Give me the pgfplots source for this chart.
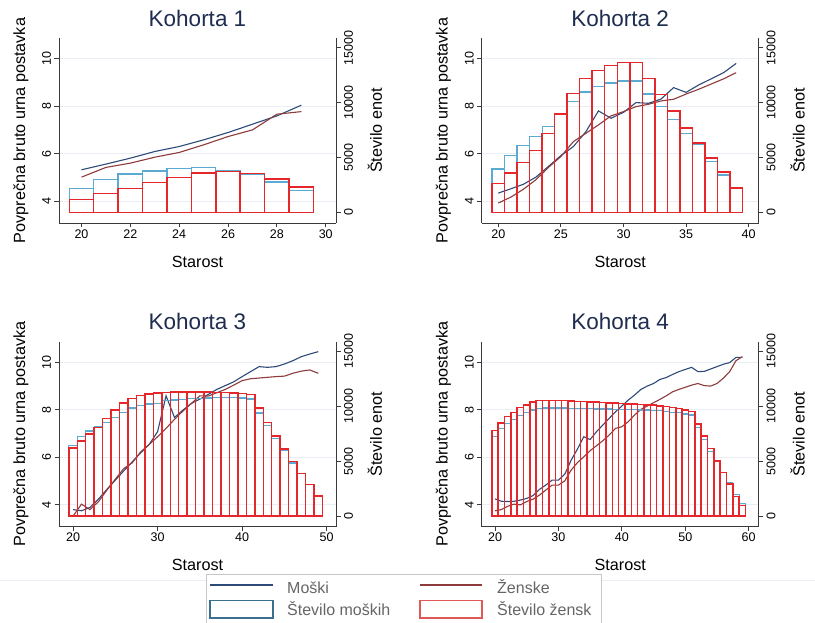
\documentclass[border=0pt]{standalone}
\usepackage{fontspec}
\setmainfont{Liberation Sans}
\usepackage{pgfplots}
\pgfplotsset{compat=1.18}
\usepackage{pgfplotstable}

\definecolor{mline}{HTML}{2E4A78}
\definecolor{fline}{HTML}{8E3B3B}
\definecolor{mbar}{HTML}{5AAAD2}
\definecolor{fbar}{HTML}{E5262A}
\definecolor{mleg}{HTML}{3B6F8F}
\definecolor{fleg}{HTML}{E05A55}
\definecolor{titlec}{HTML}{1F2D4F}
\definecolor{axc}{HTML}{3A3A3A}
\definecolor{gridc}{HTML}{E8EEF3}
\definecolor{legt}{HTML}{666666}

\pgfplotstableread{
age mw fw mc fc
20 5.32 5.01 2160 1160
21 5.56 5.42 2980 1700
22 5.81 5.60 3500 2160
23 6.09 5.85 3770 2710
24 6.30 6.05 3990 3190
25 6.58 6.37 4050 3560
26 6.89 6.72 3830 3710
27 7.24 7.00 3500 3530
28 7.59 7.66 2770 3040
29 8.04 7.77 1980 2310
}\kA

\pgfplotstableread{
age mw fw mc fc
20 4.34 3.92 3950 2620
21 4.52 4.17 5170 3590
22 4.71 4.50 6080 4530
23 5.01 4.90 6900 5630
24 5.46 5.42 7820 7180
25 5.92 5.88 8940 8940
26 6.30 6.51 10100 10800
27 6.93 6.86 10950 12170
28 7.80 7.21 11470 12930
29 7.49 7.59 11770 13390
30 7.74 7.77 11960 13630
31 8.15 7.98 11960 13630
32 8.12 8.08 10770 12170
33 8.30 8.22 9640 10710
34 8.78 8.29 8460 9250
35 8.58 8.51 7180 7700
36 8.89 8.71 6180 6330
37 9.15 8.93 4620 4930
38 9.41 9.15 3410 3650
39 9.80 9.41 2220 2220
}\kB

\pgfplotstableread{
age mw fw mc fc
20 3.80 3.52 6420 6180
21 3.75 4.03 7270 6810
22 3.89 3.80 7730 7450
23 4.24 4.13 8120 8060
24 4.65 4.62 8520 8880
25 5.04 5.08 9000 9640
26 5.43 5.53 9430 10280
27 5.81 5.77 9830 10710
28 6.19 6.23 10040 10980
29 6.54 6.54 10190 11100
30 7.08 6.87 10250 11200
31 8.59 7.22 10500 11260
32 7.68 7.60 10560 11290
33 7.99 7.95 10620 11290
34 8.27 8.27 10680 11290
35 8.45 8.59 10710 11290
36 8.65 8.58 10740 11290
37 8.86 8.72 10770 11260
38 9.02 8.86 10770 11230
39 9.18 9.04 10770 11200
40 9.40 9.23 10740 11170
41 9.61 9.31 10650 11070
42 9.82 9.34 9370 9830
43 9.79 9.37 8240 8520
44 9.82 9.40 7060 7270
45 9.93 9.42 5990 6120
46 10.07 9.54 4840 4960
47 10.24 9.63 3890 3890
48 10.35 9.68 2890 2890
49 10.45 9.54 1830 1830
}\kC

\pgfplotstableread{
age mw fw mc fc
20 4.25 3.75 7240 7790
21 4.15 3.80 8000 8460
22 4.14 3.94 8400 9070
23 4.15 4.03 8820 9430
24 4.20 4.00 9130 9890
25 4.27 4.14 9430 10130
26 4.39 4.24 9670 10400
27 4.65 4.41 9770 10500
28 4.83 4.62 9830 10530
29 5.04 4.83 9830 10530
30 5.04 4.83 9830 10530
31 5.29 5.01 9830 10500
32 5.88 5.46 9800 10470
33 6.35 5.78 9800 10430
34 6.87 6.02 9770 10430
35 6.75 6.28 9770 10400
36 7.08 6.49 9740 10370
37 7.36 6.70 9740 10340
38 7.64 6.94 9740 10310
39 7.92 7.22 9710 10280
40 8.16 7.29 9710 10250
41 8.41 7.50 9680 10220
42 8.62 7.78 9680 10190
43 8.86 8.02 9650 10160
44 9.00 8.16 9650 10130
45 9.11 8.30 9610 10100
46 9.28 8.44 9580 10040
47 9.36 8.59 9550 9980
48 9.49 8.76 9460 9890
49 9.61 8.86 9400 9800
50 9.70 8.95 9280 9670
51 9.79 9.04 9190 9520
52 9.61 9.11 8090 8400
53 9.62 9.02 7000 7300
54 9.72 9.00 5870 6150
55 9.82 9.11 4990 5020
56 9.92 9.33 3960 3960
57 9.99 9.61 3070 2920
58 10.21 10.07 1980 1760
59 10.21 10.24 1160 940
}\kD

\pgfplotsset{
  base/.style={
    scale only axis, width=277pt, height=185pt,
    tick align=outside, major tick length=4.5pt,
    axis line style={axc, line width=0.9pt, -},
    tick style={axc, line width=0.9pt},
    ticklabel style={font=\fontsize{12.5}{13}\selectfont, text=black},
    /pgf/number format/assume math mode=true,
    /pgf/number format/1000 sep={},
    scaled y ticks=false, scaled x ticks=false,
    clip=false,
  },
  leftax/.style={
    base,
    axis y line*=left, axis x line*=bottom,
    ymin=3.08, ymax=10.87, ytick={4,6,8,10},
    ymajorgrids, grid style={gridc, line width=0.8pt},
    yticklabel style={rotate=90, anchor=south},
    xticklabel style={yshift=1.5pt},
    xlabel={Starost},
    ylabel={Povprečna bruto urna postavka},
    xlabel style={at={(axis description cs:0.5,-0.238)}, anchor=base, font=\fontsize{16.2}{18}\selectfont},
    ylabel style={at={(axis description cs:-0.1227,0.5)}, anchor=base, font=\fontsize{16.2}{18}\selectfont},
    title style={at={(axis description cs:0.5,1.032)}, anchor=base, font=\fontsize{22.5}{24}\selectfont, text=titlec},
  },
  rightax/.style={
    base,
    axis y line*=right, axis x line=none,
    ymin=-975, ymax=15880, ytick={0,5000,10000,15000},
    yticklabel style={rotate=90, anchor=north},
    ylabel={Število enot},
    ylabel style={at={(axis description cs:1.166,0.5)}, rotate=0, anchor=base, font=\fontsize{16.2}{18}\selectfont},
  },
  mwage/.style={mline, line width=1.1pt},
  fwage/.style={fline, line width=1.1pt},
  mcount/.style={ybar, bar width=1, bar shift=0pt, draw=mbar, fill=none, line width=1.3pt},
  fcount/.style={ybar, bar width=1, bar shift=0pt, draw=fbar, fill=none, line width=1.5pt},
}

\begin{document}
\begin{tikzpicture}
\path[use as bounding box, fill=white] (0pt,0pt) rectangle (815pt,623pt);

% Panel 1
\begin{axis}[leftax, at={(59pt,400pt)}, anchor=south west, xmin=19.08, xmax=30.42, xtick={20,22,...,30}, title={Kohorta 1}]
\addplot[mwage] table[x=age,y=mw]{\kA};
\addplot[fwage] table[x=age,y=fw]{\kA};
\end{axis}
\begin{axis}[rightax, at={(59pt,400pt)}, anchor=south west, xmin=19.08, xmax=30.42]
\addplot[mcount] table[x=age,y=mc]{\kA};
\addplot[fcount] table[x=age,y=fc]{\kA};
\end{axis}

% Panel 2
\begin{axis}[leftax, at={(481.7pt,400pt)}, anchor=south west, xmin=18.67, xmax=40.8, xtick={20,25,...,40}, title={Kohorta 2}]
\addplot[mwage] table[x=age,y=mw]{\kB};
\addplot[fwage] table[x=age,y=fw]{\kB};
\end{axis}
\begin{axis}[rightax, at={(481.7pt,400pt)}, anchor=south west, xmin=18.67, xmax=40.8]
\addplot[mcount] table[x=age,y=mc]{\kB};
\addplot[fcount] table[x=age,y=fc]{\kB};
\end{axis}

% Panel 3
\begin{axis}[leftax, at={(59pt,96.3pt)}, anchor=south west, xmin=18.34, xmax=51.1, xtick={20,30,40,50}, title={Kohorta 3}]
\addplot[mwage] table[x=age,y=mw]{\kC};
\addplot[fwage] table[x=age,y=fw]{\kC};
\end{axis}
\begin{axis}[rightax, at={(59pt,96.3pt)}, anchor=south west, xmin=18.34, xmax=51.1]
\addplot[mcount] table[x=age,y=mc]{\kC};
\addplot[fcount] table[x=age,y=fc]{\kC};
\end{axis}

% Panel 4
\begin{axis}[leftax, at={(481.7pt,96.3pt)}, anchor=south west, xmin=17.9, xmax=61.58, xtick={20,30,...,60}, title={Kohorta 4}]
\addplot[mwage] table[x=age,y=mw]{\kD};
\addplot[fwage] table[x=age,y=fw]{\kD};
\end{axis}
\begin{axis}[rightax, at={(481.7pt,96.3pt)}, anchor=south west, xmin=17.9, xmax=61.58]
\addplot[mcount] table[x=age,y=mc]{\kD};
\addplot[fcount] table[x=age,y=fc]{\kD};
\end{axis}

% Legend
\draw[color=gridc, line width=0.8pt] (0pt,43pt) -- (815pt,43pt);
\draw[fill=white, draw=black!22, line width=0.8pt] (206pt,-5pt) rectangle (601.7pt,49pt);
\draw[mline, line width=1.1pt] (210pt,38pt) -- (273pt,38pt);
\node[anchor=base west, inner sep=0pt, text=legt, font=\fontsize{16}{18}\selectfont] at (287pt,29.7pt) {Moški};
\draw[fline, line width=1.1pt] (420pt,38pt) -- (482pt,38pt);
\node[anchor=base west, inner sep=0pt, text=legt, font=\fontsize{16}{18}\selectfont] at (497pt,29.7pt) {Ženske};
\draw[mleg, line width=1.2pt] (210pt,5pt) rectangle (273pt,22.3pt);
\node[anchor=base west, inner sep=0pt, text=legt, font=\fontsize{16}{18}\selectfont] at (287pt,7.3pt) {Število moških};
\draw[fleg, line width=1.2pt] (420pt,5pt) rectangle (482pt,22.3pt);
\node[anchor=base west, inner sep=0pt, text=legt, font=\fontsize{16}{18}\selectfont] at (497pt,7.3pt) {Število žensk};
\end{tikzpicture}
\end{document}
